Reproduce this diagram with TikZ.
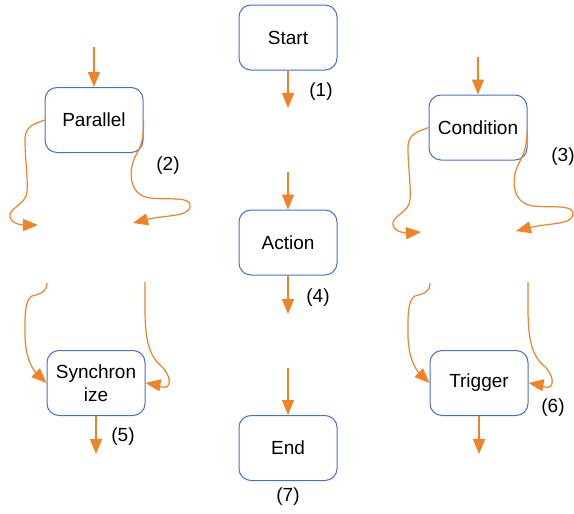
\documentclass[tikz,border=0pt]{standalone}
\usepackage{fontspec}
\setmainfont{Liberation Sans}
\usetikzlibrary{arrows.meta}
\definecolor{boxblue}{RGB}{68,114,196}
\definecolor{floworange}{RGB}{240,130,40}
\tikzset{
    state/.style={draw=boxblue, line width=0.5pt, rounded corners=6pt,
            minimum width=49pt, minimum height=32.5pt, align=center,
            font=\fontsize{9.5}{11.5}\selectfont},
    flow/.style={draw=floworange, line width=0.6pt,
            -{Triangle[length=7.5pt,width=6pt]}, floworange},
    tag/.style={font=\fontsize{9.5}{11.5}\selectfont},
}
\begin{document}
\begin{tikzpicture}[x=0.5pt, y=-0.5pt]
        \useasboundingbox (0,0) rectangle (574,514);
        %draw the states
        \node[state] (start) at (288,37.5) {Start};
        \node[state] (act) at (288,242.5) {Action};
        \node[state] (end) at (288,448) {End};
        \node[state] (par) at (94,120) {Parallel};
        \node[state] (cond) at (478,127.5) {Condition};
        \node[state] (sync) at (96,383) {Synchron\\ize};
        \node[state] (trig) at (479,383) {Trigger};
        %free ends of the connectors
        \coordinate (startout) at (288,108);
        \coordinate (actin) at (288,172);
        \coordinate (actout) at (288,314);
        \coordinate (endin) at (288,368);
        \coordinate (parin) at (94,47);
        \coordinate (parl) at (38,225);
        \coordinate (parr) at (133,223);
        \coordinate (condin) at (478,57);
        \coordinate (condl) at (421,232);
        \coordinate (condr) at (516,231);
        \coordinate (syncl) at (47,283);
        \coordinate (syncr) at (145,282);
        \coordinate (syncout) at (96,454);
        \coordinate (trigl) at (430,283);
        \coordinate (trigr) at (528,282);
        \coordinate (trigout) at (479,454);
        %straight connectors
        \draw[flow] (start) -- (startout);
        \draw[flow] (actin) -- (act);
        \draw[flow] (act) -- (actout);
        \draw[flow] (endin) -- (end);
        \draw[flow] (parin) -- (par);
        \draw[flow] (condin) -- (cond);
        \draw[flow] (sync) -- (syncout);
        \draw[flow] (trig) -- (trigout);
        %split of Parallel
        \draw[flow] (par.west) .. controls (35,124) and (25,125) .. (25,140)
            .. controls (25,160) and (28,175) .. (27,192)
            .. controls (26,205) and (8,208) .. (10,217)
            .. controls (12,225) and (25,225) .. (parl);
        \draw[flow] (par.east) .. controls (144,135) and (142,145) .. (136,155)
            .. controls (128,170) and (128,195) .. (150,198)
            .. controls (170,200) and (192,196) .. (190,207)
            .. controls (188,217) and (165,215) .. (parr);
        %split of Condition
        \draw[flow] (cond.west) .. controls (418,132) and (408,133) .. (408,148)
            .. controls (408,168) and (411,183) .. (410,200)
            .. controls (409,213) and (391,216) .. (393,225)
            .. controls (395,233) and (408,233) .. (condl);
        \draw[flow] (cond.east) .. controls (527,143) and (525,153) .. (519,163)
            .. controls (511,178) and (511,203) .. (533,206)
            .. controls (553,208) and (575,204) .. (573,215)
            .. controls (571,225) and (548,223) .. (condr);
        %join into Synchronize
        \draw[flow] (syncl) .. controls (47,292) and (40,294) .. (32,296)
            .. controls (24,300) and (25,320) .. (25,335)
            .. controls (25,360) and (35,372) .. (sync.west);
        \draw[flow] (syncr) .. controls (145,320) and (143,350) .. (160,365)
            .. controls (172,375) and (172,390) .. (162,387)
            .. controls (157,386) and (152,384) .. (sync.east);
        %join into Trigger
        \draw[flow] (trigl) .. controls (430,292) and (423,294) .. (415,296)
            .. controls (407,300) and (408,320) .. (408,335)
            .. controls (408,360) and (418,372) .. (trig.west);
        \draw[flow] (trigr) .. controls (528,320) and (526,350) .. (543,365)
            .. controls (555,375) and (555,390) .. (545,387)
            .. controls (540,386) and (535,384) .. (trig.east);
        %label the connectors
        \node[tag] (t1) at (321,92) {(1)};
        \node[tag] (t2) at (168,166) {(2)};
        \node[tag] (t3) at (563,157) {(3)};
        \node[tag] (t4) at (318,298) {(4)};
        \node[tag] (t5) at (123,437) {(5)};
        \node[tag] (t6) at (553,408) {(6)};
        \node[tag] (t7) at (288,497) {(7)};
    \end{tikzpicture}
\end{document}
